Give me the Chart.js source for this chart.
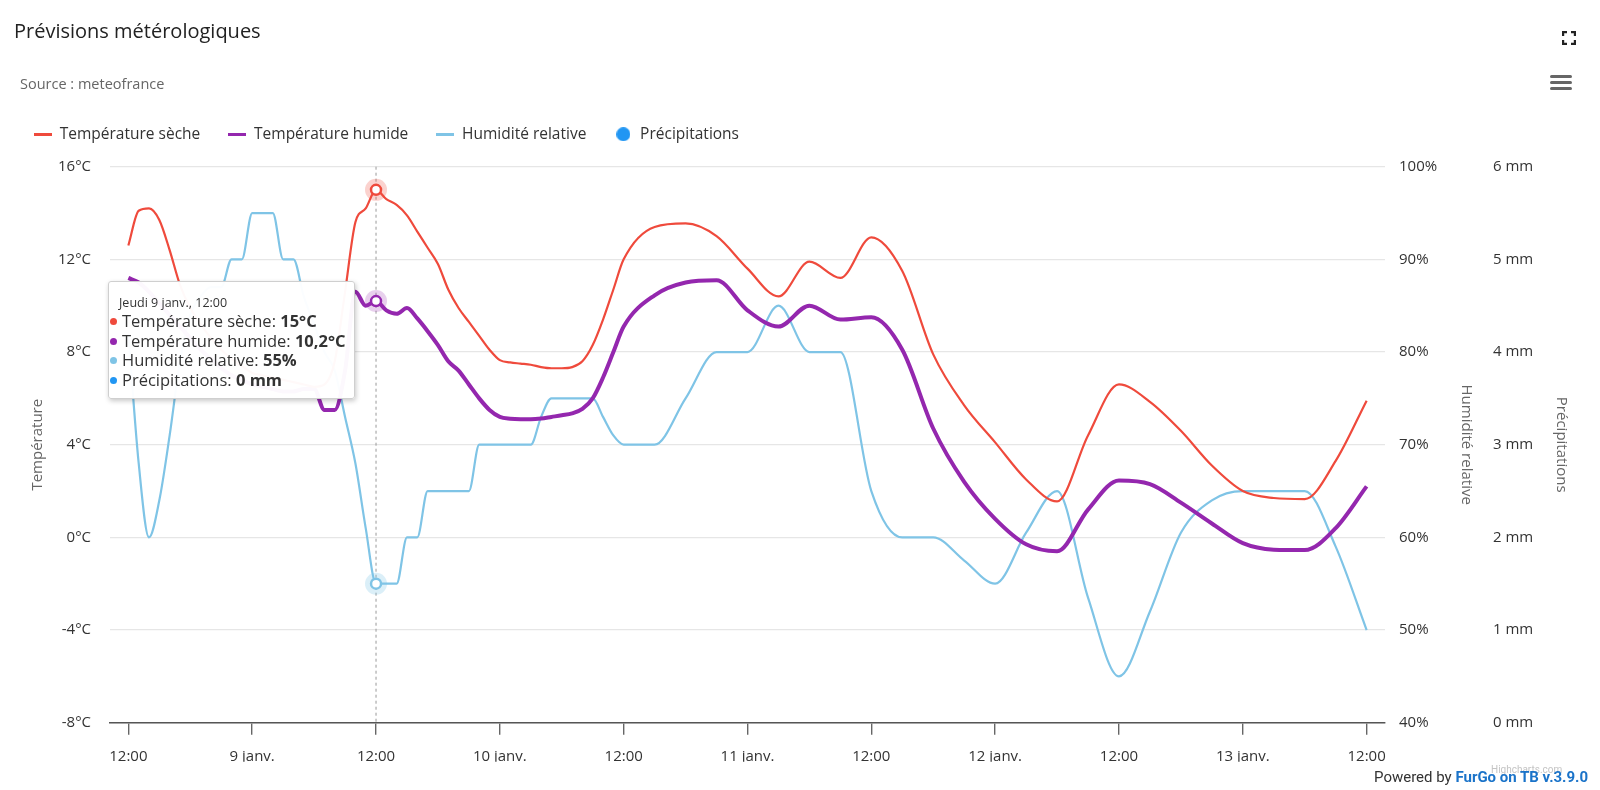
<!DOCTYPE html>
<html lang="fr">
<head>
<meta charset="utf-8">
<title>Prévisions métérologiques</title>
<script src="https://cdn.jsdelivr.net/npm/chart.js@4.4.1/dist/chart.umd.min.js"></script>
<style>
  html, body { margin: 0; padding: 0; background: #fff; overflow: hidden; }
  #wrap { position: relative; width: 1600px; height: 790px; font-family: 'Open Sans', sans-serif; }
  #chart { position: absolute; left: 0; top: 0; width: 1600px; height: 790px; }
  .title { position: absolute; left: 14px; top: 19px; font-size: 20px; line-height: 24px; color: #222; }
  .subtitle { position: absolute; left: 20px; top: 75px; font-size: 14.5px; line-height: 18px; color: #666; }
  .credits { position: absolute; right: 12px; top: 767px; font-family: Roboto, sans-serif; font-size: 15px; line-height: 20px; color: #333; white-space: nowrap; }
  .credits b { color: #1a73c9; }
  .hc { position: absolute; left: 1491px; top: 764px; font-family: Roboto, sans-serif; font-size: 10px; color: #c4c4c4; }
  .menu { position: absolute; left: 1550px; top: 75px; width: 22px; }
  .menu span { display: block; height: 3px; margin-bottom: 3px; background: #666; border-radius: 2px; }
  .fs { position: absolute; left: 1562px; top: 31px; }
  #tip { position: absolute; opacity: 0; pointer-events: none; background: rgba(255,255,255,0.97);
         border: 1px solid #cfcfcf; border-radius: 3px; box-shadow: 1px 2px 5px rgba(0,0,0,0.22);
         padding: 12px 9px 9px 10px; white-space: nowrap; color: #333; }
  #tip .tt-title { font-size: 12.5px; line-height: 17px; }
  #tip .tt-row { font-size: 16.5px; line-height: 19.6px; }
  #tip .dot { display: inline-block; width: 7px; height: 7px; border-radius: 50%; margin: 0 5px 2px -9px; vertical-align: middle; }
</style>
</head>
<body>
<div id="wrap">
  <canvas id="chart" width="1600" height="790"></canvas>
  <div class="title">Prévisions métérologiques</div>
  <div class="subtitle">Source : meteofrance</div>
  <svg class="fs" width="14" height="14" viewBox="0 0 14 14" fill="none" stroke="#222" stroke-width="2.4">
    <path d="M1 5V1h4M9 1h4v4M13 9v4H9M5 13H1V9"/>
  </svg>
  <div class="menu"><span></span><span></span><span></span></div>
  <div class="hc">Highcharts.com</div>
  <div class="credits">Powered by <b>FurGo on TB v.3.9.0</b></div>
  <div id="tip"></div>
</div>
<script>
// hours since Wed 8 Jan 12:00 (hourly for two days, then every 3 hours)
const hours = [
  0, 1, 2, 3, 4, 5, 6, 7, 8, 9, 10, 11, 12, 13, 14, 15, 16, 17, 18, 19, 20, 21, 22, 23, 24,
  25, 26, 27, 28, 29, 30, 31, 32, 33, 34, 35, 36, 37, 38, 39, 40, 41, 42, 43, 44, 45, 46, 47, 48,
  51, 54, 57, 60, 63, 66, 69, 72, 75, 78, 81, 84, 87, 90, 93, 96, 99, 102, 105, 108, 111, 114, 117, 120
];

const tempSeche = [
  12.6, 14.1, 14.2, 13.7, 12.4, 10.9, 9.9, 9.2, 8.6, 8.1, 7.7, 7.4, 7.1, 7.0, 6.9, 6.8, 6.7, 6.6, 6.5, 6.6, 7.6, 10.6, 13.6, 14.2, 15.0,
  14.6, 14.35, 13.9, 13.2, 12.5, 11.8, 10.7, 9.9, 9.3, 8.7, 8.1, 7.65, 7.55, 7.5, 7.45, 7.35, 7.3, 7.3, 7.35, 7.6, 8.3, 9.4, 10.7, 12.0,
  13.4, 13.55, 13.0, 11.6, 10.4, 11.9, 11.2, 12.95, 11.5, 7.9, 5.7, 4.1, 2.5, 1.55, 4.4, 6.6, 5.85, 4.6, 3.1, 2.0, 1.7, 1.65, 3.3, 5.9
];

const tempHumide = [
  11.2, 11.0, 10.6, 10.1, 9.6, 9.1, 8.6, 8.1, 7.7, 7.3, 7.0, 6.8, 6.6, 6.5, 6.4, 6.3, 6.3, 6.4, 6.4, 5.5, 5.5, 7.2, 10.6, 10.0, 10.2,
  9.8, 9.65, 9.9, 9.45, 8.9, 8.3, 7.6, 7.2, 6.6, 6.0, 5.5, 5.2, 5.12, 5.1, 5.1, 5.13, 5.2, 5.27, 5.35, 5.55, 6.0, 6.9, 8.0, 9.1,
  10.45, 11.0, 11.1, 9.8, 9.1, 10.0, 9.4, 9.5, 8.1, 4.7, 2.4, 0.8, -0.3, -0.6, 1.2, 2.45, 2.3, 1.5, 0.6, -0.25, -0.53, -0.55, 0.4, 2.2
];

const humidite = [
  82, 68, 60, 64, 71, 79, 84, 86, 87, 87, 90, 90, 95, 95, 95, 90, 90, 86, 83, 80, 78, 73, 68, 61, 55,
  55, 55, 60, 60, 65, 65, 65, 65, 65, 70, 70, 70, 70, 70, 70, 73, 75, 75, 75, 75, 75, 73, 71, 70,
  70, 75, 80, 80, 85, 80, 80, 65, 60, 60, 57.5, 55, 60.5, 65, 53.5, 45, 52, 60.5, 64, 65, 65, 65, 59, 50
];

const precipitations = [
  0, 0, 0, 0, 0, 0, 0, 0, 0, 0, 0, 0, 0, 0, 0, 0, 0, 0, 0, 0, 0, 0, 0, 0, 0,
  0, 0, 0, 0, 0, 0, 0, 0, 0, 0, 0, 0, 0, 0, 0, 0, 0, 0, 0, 0, 0, 0, 0, 0,
  0, 0, 0, 0, 0, 0, 0, 0, 0, 0, 0, 0, 0, 0, 0, 0, 0, 0, 0, 0, 0, 0, 0, 0
];

const seriesNames = ['Température sèche', 'Température humide', 'Humidité relative', 'Précipitations'];
const seriesUnits = ['°C', '°C', '%', ' mm'];
const seriesColors = ['#ef4a3c', '#9427ae', '#7fc4e6', '#2196f3'];
const haloColors = ['rgba(239,74,60,0.25)', 'rgba(148,39,174,0.22)', 'rgba(127,196,230,0.28)', null];

const xTickValues = [0, 12, 24, 36, 48, 60, 72, 84, 96, 108, 120];
const xTickLabels = ['12:00', '9 janv.', '12:00', '10 janv.', '12:00', '11 janv.', '12:00', '12 janv.', '12:00', '13 janv.', '12:00'];
const dayNames = ['Mercredi', 'Jeudi', 'Vendredi', 'Samedi', 'Dimanche', 'Lundi'];

const activeIndex = 24; // Jeudi 9 janv., 12:00

function points(values) {
    return hours.map((h, i) => ({ x: h, y: values[i] }));
}

function formatTime(h) {
    const total = 12 + h;
    const day = Math.floor(total / 24);
    const hh = String(total % 24).padStart(2, '0');
    return dayNames[day] + ' ' + (8 + day) + ' janv., ' + hh + ':00';
}

function formatValue(v, unit) {
    return String(v).replace('.', ',') + unit;
}

function legendSymbol(color, kind) {
    const c = document.createElement('canvas');
    const ctx = c.getContext('2d');
    if (kind === 'line') {
        c.width = 18; c.height = 3;
        ctx.fillStyle = color;
        ctx.fillRect(0, 0, 18, 3);
    } else {
        c.width = 14; c.height = 14;
        ctx.fillStyle = color;
        ctx.beginPath();
        ctx.arc(7, 7, 7, 0, Math.PI * 2);
        ctx.fill();
    }
    return c;
}

const legendSymbols = [
    legendSymbol(seriesColors[0], 'line'),
    legendSymbol(seriesColors[1], 'line'),
    legendSymbol(seriesColors[2], 'line'),
    legendSymbol(seriesColors[3], 'circle')
];

function externalTooltip(context) {
    const { chart, tooltip } = context;
    const el = document.getElementById('tip');
    if (tooltip.opacity === 0 || !tooltip.dataPoints || !tooltip.dataPoints.length) {
        el.style.opacity = 0;
        return;
    }
    const pts = tooltip.dataPoints;
    let html = '<div class="tt-title">' + formatTime(hours[pts[0].dataIndex]) + '</div>';
    pts.forEach(p => {
        const k = p.datasetIndex;
        html += '<div class="tt-row"><span class="dot" style="background:' + seriesColors[k] + '"></span>' +
            seriesNames[k] + ': <b>' + formatValue(p.raw.y, seriesUnits[k]) + '</b></div>';
    });
    el.innerHTML = html;
    el.style.opacity = 1;
    // place the box to the left of the hovered points
    const px = pts[0].element.x;
    const py = pts[1].element.y;
    el.style.left = (chart.canvas.offsetLeft + px - 21 - el.offsetWidth) + 'px';
    el.style.top = (chart.canvas.offsetTop + py - 20) + 'px';
}

// dashed crosshair and halos behind the hovered markers
const hoverDecor = {
    id: 'hoverDecor',
    beforeDatasetsDraw(chart) {
        const active = chart.getActiveElements();
        if (!active.length) return;
        const { ctx, chartArea } = chart;
        const x = active[0].element.x;
        ctx.save();
        ctx.strokeStyle = '#9a9a9a';
        ctx.lineWidth = 1;
        ctx.setLineDash([3, 3]);
        ctx.beginPath();
        ctx.moveTo(x, chartArea.top);
        ctx.lineTo(x, chartArea.bottom);
        ctx.stroke();
        ctx.setLineDash([]);
        active.forEach(a => {
            const halo = haloColors[a.datasetIndex];
            if (!halo) return;
            ctx.fillStyle = halo;
            ctx.beginPath();
            ctx.arc(a.element.x, a.element.y, 11, 0, Math.PI * 2);
            ctx.fill();
        });
        ctx.restore();
    }
};

// keep the legend row tight against the plot area
const legendHeight = {
    id: 'legendHeight',
    afterInit(chart) {
        const legend = chart.legend;
        const fit = legend.fit;
        legend.fit = function () {
            fit.call(this);
            this.height = 68.2;
        };
    }
};

function lineDataset(k, values, width) {
    return {
        type: 'line',
        label: seriesNames[k],
        data: points(values),
        yAxisID: k === 2 ? 'yHum' : 'yTemp',
        borderColor: seriesColors[k],
        backgroundColor: seriesColors[k],
        borderWidth: width,
        pointRadius: 0,
        pointHoverRadius: 5,
        pointHoverBorderWidth: 2.5,
        pointHoverBackgroundColor: '#ffffff',
        pointHoverBorderColor: seriesColors[k],
        cubicInterpolationMode: 'monotone',
        fill: false
    };
}

Chart.defaults.font.family = "'Open Sans', sans-serif";
Chart.defaults.font.size = 15;
Chart.defaults.color = '#333';

const chart = new Chart(document.getElementById('chart'), {
    type: 'line',
    data: {
        datasets: [
            lineDataset(0, tempSeche, 2.2),
            lineDataset(1, tempHumide, 4),
            lineDataset(2, humidite, 2.2),
            {
                type: 'bar',
                label: seriesNames[3],
                data: points(precipitations),
                yAxisID: 'yPrec',
                backgroundColor: seriesColors[3],
                borderWidth: 0
            }
        ]
    },
    options: {
        responsive: false,
        animation: false,
        events: [],
        layout: { padding: { top: 98.5, left: 6, right: 25, bottom: 28.3 } },
        interaction: { mode: 'index', intersect: false },
        plugins: {
            title: { display: false },
            legend: {
                align: 'start',
                labels: {
                    usePointStyle: true,
                    pointStyleWidth: 18,
                    padding: 28,
                    color: '#333',
                    font: { size: 15.5 },
                    generateLabels(chart) {
                        const items = Chart.defaults.plugins.legend.labels.generateLabels(chart);
                        items.forEach((item, i) => { item.pointStyle = legendSymbols[i]; });
                        return items;
                    }
                }
            },
            tooltip: { enabled: false, external: externalTooltip }
        },
        scales: {
            x: {
                type: 'linear',
                offset: false,
                min: -1.78,
                max: 121.78,
                afterBuildTicks(scale) { scale.ticks = xTickValues.map(v => ({ value: v })); },
                afterFit(scale) { scale.height = 39; },
                ticks: {
                    padding: 13,
                    color: '#333',
                    maxRotation: 0,
                    autoSkip: false,
                    callback(value) { return xTickLabels[xTickValues.indexOf(value)]; }
                },
                grid: { offset: false, drawOnChartArea: false, drawTicks: true, tickLength: 12, color: '#666', lineWidth: 1.4 },
                border: { display: true, color: '#555', width: 1.6 }
            },
            yTemp: {
                position: 'left',
                min: -8,
                max: 16,
                afterFit(scale) { scale.width = 104; },
                ticks: { stepSize: 4, padding: 19, color: '#333', callback: v => v + '°C' },
                grid: { color: '#e6e6e6', lineWidth: 1.3, drawTicks: false },
                border: { display: false },
                title: { display: true, text: 'Température', color: '#666', font: { size: 15 }, padding: { top: 23, bottom: 0 } }
            },
            yHum: {
                position: 'right',
                min: 40,
                max: 100,
                afterFit(scale) { scale.width = 95; },
                ticks: { stepSize: 10, padding: 14, color: '#333', callback: v => v + '%' },
                grid: { display: false, drawTicks: false },
                border: { display: false },
                title: { display: true, text: 'Humidité relative', color: '#666', font: { size: 15 }, padding: { top: 5, bottom: 0 } }
            },
            yPrec: {
                position: 'right',
                min: 0,
                max: 6,
                afterFit(scale) { scale.width = 95; },
                ticks: { stepSize: 1, padding: 13, color: '#333', callback: v => v + ' mm' },
                grid: { display: false, drawTicks: false },
                border: { display: false },
                title: { display: true, text: 'Précipitations', color: '#666', font: { size: 15 }, padding: { top: 5, bottom: 0 } }
            }
        }
    },
    plugins: [hoverDecor, legendHeight]
});

// show the reading for Jeudi 9 janv., 12:00 as in the original capture
const activeElements = [0, 1, 2, 3].map(k => ({ datasetIndex: k, index: activeIndex }));
chart.setActiveElements(activeElements);
chart.tooltip.setActiveElements(activeElements, { x: 0, y: 0 });
chart.update();
</script>
</body>
</html>
